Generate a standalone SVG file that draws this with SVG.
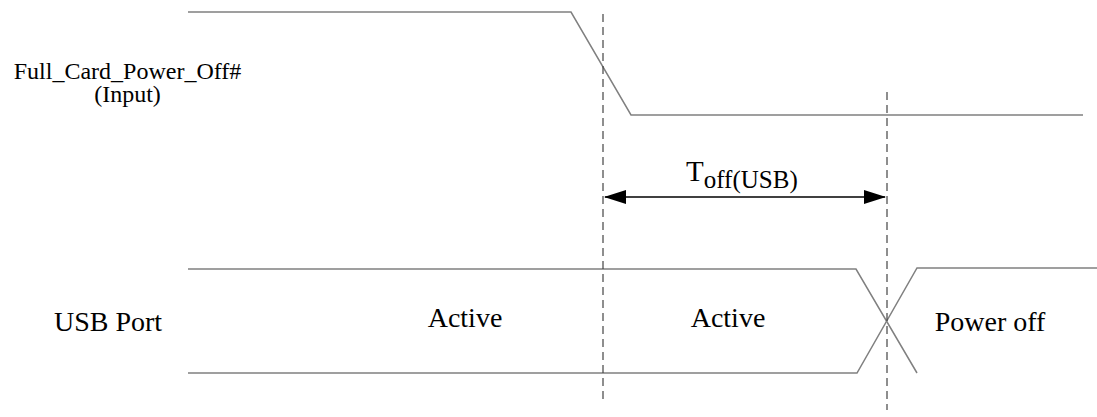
<svg xmlns="http://www.w3.org/2000/svg" width="1097" height="417" viewBox="0 0 1097 417">
<style>
.sig{fill:none;stroke:#808080;stroke-width:1.5}
.dash{fill:none;stroke:#444;stroke-width:1.2;stroke-dasharray:8,5}
.arr{fill:none;stroke:#000;stroke-width:1.5}
text{fill:#000;font-family:Liberation Serif, Times New Roman, serif}
</style>
<defs>
<marker id="ah" markerWidth="22" markerHeight="14" refX="21" refY="7" orient="auto-start-reverse" markerUnits="userSpaceOnUse">
<path d="M0,0 L22,7 L0,14 Z" fill="#000"/>
</marker>
</defs>
<rect width="1097" height="417" fill="#fff"/>
<g id="signal-fcpo">
<polyline class="sig" points="188,12 571,12 631,115 1083,115"/>
<text font-size="24" x="127.5" y="79" text-anchor="middle">Full_Card_Power_Off#</text>
<text font-size="24" x="127.5" y="102" text-anchor="middle">(Input)</text>
</g>
<g id="signal-usb">
<polyline class="sig" points="188,269 856,269 917,373"/>
<polyline class="sig" points="188,373 857,373 917,268 1097,268"/>
<text font-size="28" x="108" y="331" text-anchor="middle">USB Port</text>
<text font-size="28" x="465" y="327" text-anchor="middle">Active</text>
<text font-size="28" x="728" y="327" text-anchor="middle">Active</text>
<text font-size="28" x="990" y="331" text-anchor="middle">Power off</text>
</g>
<g id="connectors">
<line class="dash" x1="603" y1="14" x2="603" y2="400"/>
<line class="dash" x1="887" y1="92" x2="887" y2="410"/>
<line class="arr" x1="605" y1="197" x2="885" y2="197" marker-start="url(#ah)" marker-end="url(#ah)"/>
</g>
<g id="label-toff">
<text x="686" y="181" font-size="29">T<tspan font-size="25" dy="7">off(USB)</tspan></text>
</g>
</svg>
